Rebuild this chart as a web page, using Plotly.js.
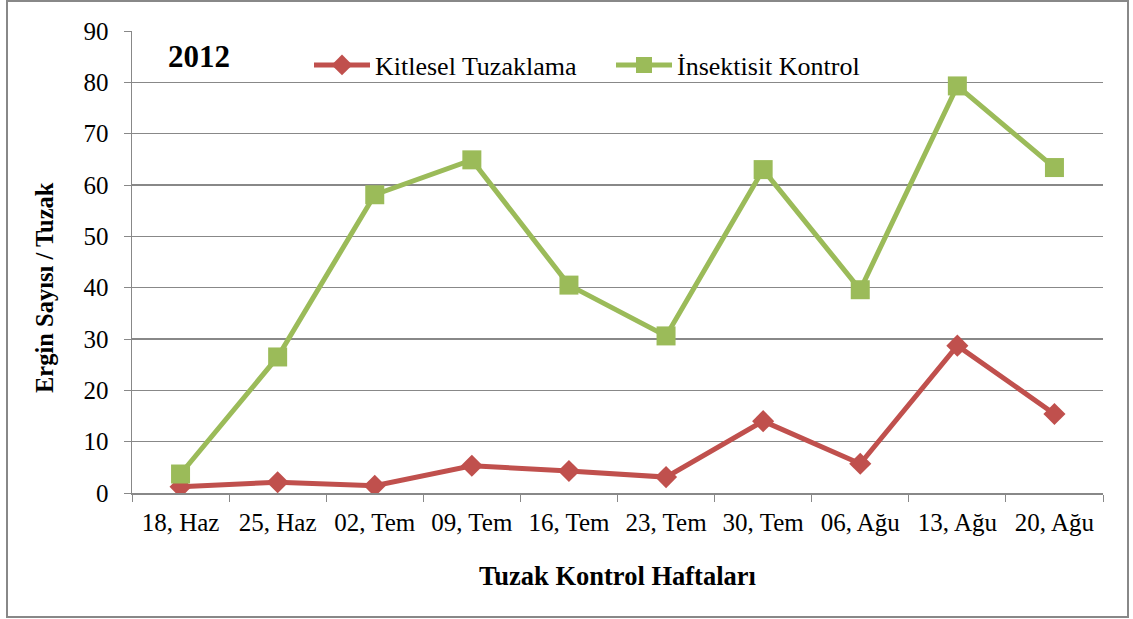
<!DOCTYPE html>
<html>
<head>
<meta charset="utf-8">
<script src="https://cdn.plot.ly/plotly-3.0.1.min.js"></script>
<style>
  body { margin: 0; background: #fff; }
  #chart { width: 1133px; height: 619px; }
</style>
</head>
<body>
<div id="chart"></div>
<script>
const weeks = ['18, Haz', '25, Haz', '02, Tem', '09, Tem', '16, Tem', '23, Tem', '30, Tem', '06, Ağu', '13, Ağu', '20, Ağu']
const kitlesel = [1.2, 2.1, 1.4, 5.3, 4.3, 3.1, 14.0, 5.7, 28.7, 15.4]
const insektisit = [3.7, 26.5, 58.1, 64.9, 40.5, 30.6, 63.0, 39.6, 79.3, 63.4]

const W = 1133, H = 619
const m = {l: 132, r: 30, t: 31, b: 126}
const pw = W - m.l - m.r, ph = H - m.t - m.b
// pixel -> paper units
function px(x) { return (x - m.l) / pw }
function py(y) { return (H - m.b - y) / ph }

const serif = '"Liberation Serif", "Times New Roman", serif'

var data = [{
  x: weeks, y: kitlesel,
  name: 'Kitlesel Tuzaklama',
  mode: 'lines+markers',
  type: 'scatter',
  line: {color: '#C0504D', width: 5},
  marker: {symbol: 'diamond', size: 17, color: '#C0504D'}
}, {
  x: weeks, y: insektisit,
  name: 'İnsektisit Kontrol',
  mode: 'lines+markers',
  type: 'scatter',
  line: {color: '#9BBB59', width: 5},
  marker: {symbol: 'square', size: 19, color: '#9BBB59'}
}]

var layout = {
  width: W, height: H,
  margin: m,
  paper_bgcolor: '#fff', plot_bgcolor: '#fff',
  font: {family: serif, size: 25, color: '#000'},
  showlegend: true,
  legend: {
    orientation: 'h', x: px(309), y: py(65), yanchor: 'middle', xanchor: 'left',
    font: {family: serif, size: 26}, bgcolor: 'rgba(0,0,0,0)',
    itemwidth: 56, entrywidth: 231, entrywidthmode: 'pixels', tracegroupgap: 0
  },
  xaxis: {
    type: 'category', range: [-0.5, 9.5],
    tickson: 'boundaries', ticks: 'outside', ticklen: 7, tickcolor: '#888',
    showline: true, linecolor: '#888', linewidth: 1.5,
    showgrid: false,
    tickfont: {family: serif, size: 25}, ticklabelstandoff: 6,
    title: {text: '<b>Tuzak Kontrol Haftaları</b>', font: {family: serif, size: 26.5}, standoff: 32},
    fixedrange: true
  },
  yaxis: {
    range: [0, 90], dtick: 10,
    ticks: 'outside', ticklen: 7, tickcolor: '#888',
    showline: true, linecolor: '#888', linewidth: 1.5,
    showgrid: true, gridcolor: '#888', gridwidth: 1.5,
    zeroline: false,
    tickfont: {family: serif, size: 25}, ticklabelstandoff: 10,
    fixedrange: true
  },
  annotations: [{
    text: '<b>2012</b>', xref: 'paper', yref: 'paper',
    x: px(166), y: py(57), xanchor: 'left', yanchor: 'middle',
    showarrow: false, font: {family: serif, size: 31, color: '#000'}
  }, {
    // y axis title sits a little below the plot centre in the original
    text: '<b>Ergin Sayısı / Tuzak</b>', xref: 'paper', yref: 'paper',
    x: px(44), y: py(288), xanchor: 'center', yanchor: 'middle', textangle: -90,
    showarrow: false, font: {family: serif, size: 24.5, color: '#000'}
  }],
  shapes: [{
    type: 'rect', xref: 'paper', yref: 'paper',
    x0: px(7), x1: px(1128), y0: py(617), y1: py(1),
    line: {color: '#888', width: 2}
  }]
}

Plotly.newPlot('chart', data, layout, {displayModeBar: false, staticPlot: true})
</script>
</body>
</html>
